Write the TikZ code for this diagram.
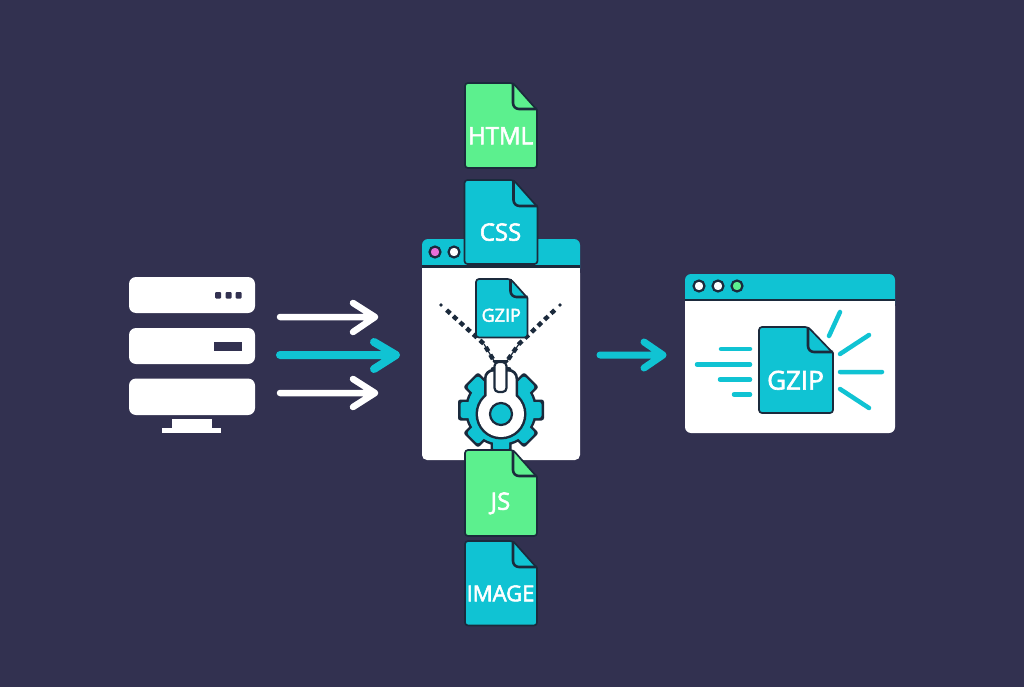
\documentclass[tikz,border=0pt]{standalone}
\usepackage{fontspec}
\usetikzlibrary{calc}
\setmainfont{Open Sans}[RawFeature={embolden=2.4}]
\definecolor{pagebg}{HTML}{323150}
\definecolor{teal}{HTML}{10C3D3}
\definecolor{mint}{HTML}{5CF08E}
\definecolor{ink}{HTML}{1B2A3C}
\definecolor{pinkdot}{HTML}{E86FD8}
\tikzset{
  edgeline/.style={draw=ink,line width=1.7pt,line join=round},
  stroke/.style={line cap=round,line join=round},
  whitearrow/.style={stroke,draw=white,line width=6.5pt},
  tealarrow/.style={stroke,draw=teal,line width=8pt},
  ray/.style={stroke,draw=teal,line width=4.5pt},
  rack/.style={fill=white,rounded corners=7pt},
  doccaption/.style={text=white,inner sep=0pt,font=\fontsize{#1}{#1}\selectfont},
  windowdot/.style={draw=ink,line width=2.2pt},
  teeth/.style={draw=ink,line width=4.4pt,dash pattern=on 5pt off 4pt},
  wire/.style={draw=ink,line width=1.2pt}
}
% A document sheet with a folded corner: name, left, top, width, height,
% fold width, fold height, fill colour, caption, then the caption size.
\newcommand{\docsheet}[9]{%
  \def\docname{#1}\def\docx{#2}\def\docy{#3}\def\docw{#4}\def\doch{#5}%
  \def\foldw{#6}\def\foldh{#7}\def\docfill{#8}\def\doctext{#9}\docsheetfinish}
\newcommand{\docsheetfinish}[1]{%
  \draw[edgeline,fill=\docfill,rounded corners=3pt]
    (\docx,\docy) -- ({\docx+\docw-\foldw},\docy) [sharp corners]
    -- ({\docx+\docw},{\docy+\foldh}) [rounded corners=3pt]
    -- ({\docx+\docw},{\docy+\doch}) -- (\docx,{\docy+\doch}) -- cycle;
  \draw[edgeline,line width=2.6pt,rounded corners=6pt]
    ({\docx+\docw-\foldw},\docy) -- ({\docx+\docw-\foldw},{\docy+\foldh-1})
    -- ({\docx+\docw},{\docy+\foldh-1});
  \node[doccaption=#1] (\docname) at ({\docx+\docw/2-0.5},{\docy+\doch*0.62}) {\doctext};
}
% Cog: eight teeth round a disc, centred at the current scope origin.
% #2 shrinks the outline inwards, so an inset copy leaves an even rim.
\newcommand{\cogshape}[2]{%
  \foreach \a in {0,45,...,315}
    \fill[#1,rotate=\a,rounded corners=2.5pt] ({-10.5+#2},{-43+#2}) rectangle ({10.5-#2},-24);
  \fill[#1] (0,0) circle ({36-#2});
}
\begin{document}
\begin{tikzpicture}[x=1pt,y=-1pt]
\useasboundingbox (0,0) rectangle (1024,687);
\fill[pagebg] (0,0) rectangle (1024,687);

% Server rack
\fill[rack] (129,277) rectangle (255,313);
\fill[rack] (129,328) rectangle (255,364);
\fill[rack] (129,378.5) rectangle (255,415);
\foreach \x in {218,228.5,238.5}
  \fill[pagebg,rounded corners=1pt] (\x-3,292) rectangle (\x+3,298.5);
\fill[pagebg] (214,342) rectangle (242,351);
\fill[white] (172,419) rectangle (212,428);
\fill[white] (162,427.5) rectangle (221,433);

% Arrows leaving the rack
\coordinate (a1s) at (280,317); \coordinate (a1e) at (375,317);
\coordinate (a1u) at (353,303); \coordinate (a1d) at (353,332);
\coordinate (a2s) at (280,355); \coordinate (a2e) at (396,355);
\coordinate (a2u) at (374,342); \coordinate (a2d) at (374,369);
\coordinate (a3s) at (280,393); \coordinate (a3e) at (375,393);
\coordinate (a3u) at (353,379); \coordinate (a3d) at (353,407);
\draw[whitearrow] (a1s) -- (a1e) (a1u) -- (a1e) -- (a1d);
\draw[tealarrow] (a2s) -- (a2e) (a2u) -- (a2e) -- (a2d);
\draw[whitearrow] (a3s) -- (a3e) (a3u) -- (a3e) -- (a3d);

% Compression window
\fill[teal,rounded corners=6pt] (422,239) rectangle (580,275);
\fill[ink] (422,265) rectangle (580,268);
\fill[white,rounded corners=5pt] (422,268) rectangle (580,460);
\fill[white] (422,268) rectangle (580,280);
\filldraw[windowdot,fill=pinkdot] (435,252) circle (5.5);
\filldraw[windowdot,fill=white] (454,252) circle (5.5);

% Cog and zipper pull
\begin{scope}[shift={(501,410)}]
  \cogshape{ink}{0}
  \cogshape{teal}{2.5}
\end{scope}
\fill[ink] (501,414) circle (25.5);
\fill[ink,rounded corners=9pt] (484,369) rectangle (518,405);
\fill[white] (501,414) circle (23);
\fill[white,rounded corners=7.5pt] (486.5,371.5) rectangle (515.5,405);
\filldraw[draw=ink,line width=2.2pt,fill=teal] (501,414) circle (11);
\filldraw[draw=ink,line width=2.2pt,fill=white,rounded corners=4pt] (494.5,362) rectangle (506.5,392);

% Zipper tracks
\coordinate (zl) at (441,305); \coordinate (zlm) at (484,344); \coordinate (zlb) at (494,361);
\coordinate (zr) at (560,305); \coordinate (zrm) at (519,344); \coordinate (zrb) at (507,361);
\fill[ink] (zl) circle (1.8);
\fill[ink] (zr) circle (1.8);
\draw[teeth] ($(zl)!0.13!(zlm)$) -- (zlm) -- (zlb);
\draw[teeth] ($(zr)!0.13!(zrm)$) -- (zrm) -- (zrb);
\draw[wire] (zlm) -- (zlb) (zrm) -- (zrb);
\draw[draw=ink,line width=3pt,line cap=round] (zlb) -- (zrb);

% Compressed file inside the window
\docsheet{gzipinner}{476}{279}{51.5}{58.5}{17}{19}{teal}{GZIP}{18}

% Source files
\docsheet{html}{465}{83}{72}{85}{24}{27}{mint}{HTML}{24}
\docsheet{css}{464.5}{180}{73}{84}{24}{27}{teal}{CSS}{24}
\docsheet{js}{465}{450}{72}{86}{24}{27}{mint}{JS}{24}
\docsheet{image}{465}{541}{72}{84.5}{24}{27}{teal}{IMAGE}{22}

% Arrow towards the result window
\coordinate (a4s) at (600,355); \coordinate (a4e) at (663,355);
\coordinate (a4u) at (644,342); \coordinate (a4d) at (644,368);
\draw[tealarrow,line width=7pt] (a4s) -- (a4e) (a4u) -- (a4e) -- (a4d);

% Result window
\fill[teal,rounded corners=6pt] (685,274) rectangle (895,310);
\fill[white,rounded corners=6pt] (685,300) rectangle (895,433);
\fill[white] (685,300) rectangle (895,312);
\fill[ink] (685,298.5) rectangle (895,301);
\filldraw[windowdot,fill=white] (699,286) circle (5.5);
\filldraw[windowdot,fill=white] (718,286) circle (5.5);
\filldraw[windowdot,fill=mint] (737,286) circle (5.5);

% Speed lines and burst around the delivered file
\coordinate (s1a) at (721,349); \coordinate (s1b) at (750,349);
\coordinate (s2a) at (697,364.5); \coordinate (s2b) at (750,364.5);
\coordinate (s3a) at (720,379.5); \coordinate (s3b) at (750,379.5);
\coordinate (s4a) at (734,394.5); \coordinate (s4b) at (750,394.5);
\coordinate (b1a) at (829,336); \coordinate (b1b) at (840,312);
\coordinate (b2a) at (840,354); \coordinate (b2b) at (869,335);
\coordinate (b3a) at (840,372); \coordinate (b3b) at (882,372);
\coordinate (b4a) at (840,389); \coordinate (b4b) at (869,408);
\draw[ray] (s1a) -- (s1b) (s2a) -- (s2b) (s3a) -- (s3b) (s4a) -- (s4b);
\draw[ray] (b1a) -- (b1b) (b2a) -- (b2b) (b3a) -- (b3b) (b4a) -- (b4b);
\docsheet{gzipouter}{759}{327}{74}{86}{25}{26}{teal}{GZIP}{26}
\end{tikzpicture}
\end{document}
